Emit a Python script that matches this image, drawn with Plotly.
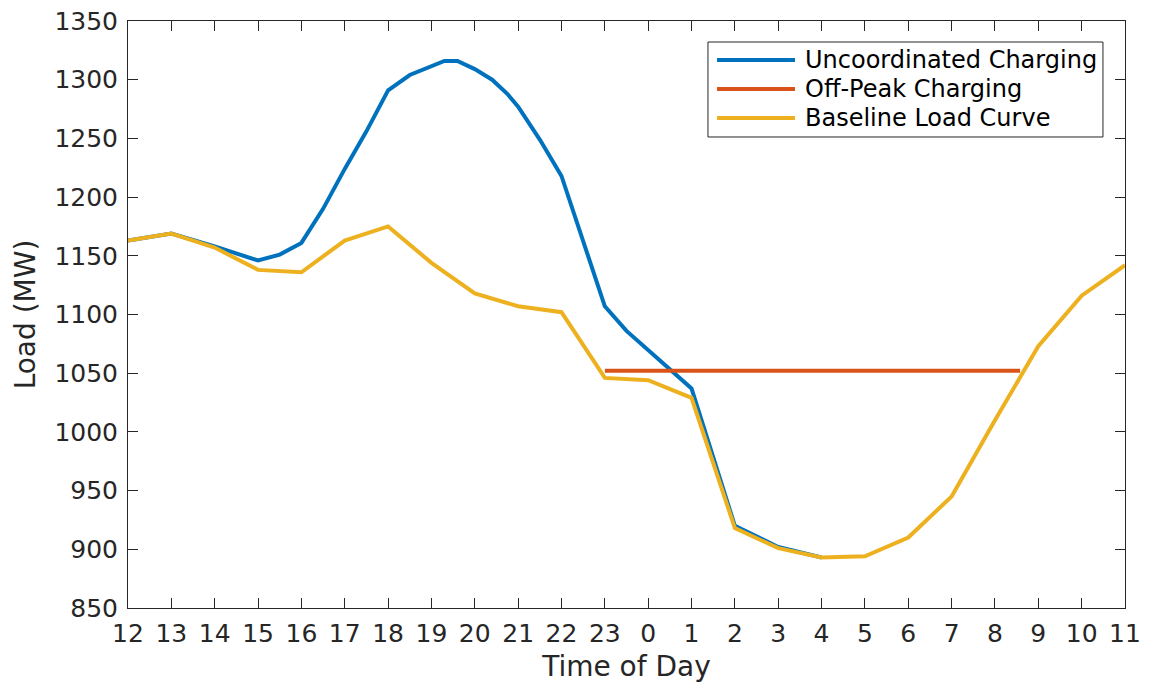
import plotly.graph_objects as go

# Hour labels, starting at noon and running to 11 the next morning
hour_labels = ["12", "13", "14", "15", "16", "17", "18", "19", "20", "21", "22", "23",
               "0", "1", "2", "3", "4", "5", "6", "7", "8", "9", "10", "11"]
hour_pos = list(range(len(hour_labels)))  # hours elapsed since noon

# Baseline load (MW), hourly
baseline_mw = [1163, 1169, 1157, 1138, 1136, 1163, 1175, 1144, 1118, 1107, 1102, 1046,
               1044, 1029, 918, 901, 893, 894, 910, 945, 1010, 1073, 1116, 1142]

# Uncoordinated charging (MW), finer sampling through the evening peak;
# after 4 am it coincides with the baseline
uncoord_t = [0, 1, 2, 2.5, 3, 3.5, 4, 4.5, 5, 5.5, 6, 6.5, 7, 7.3, 7.6, 8, 8.4, 8.75,
             9, 9.5, 10, 11, 11.5, 12, 12.5, 13, 14, 15, 16]
uncoord_mw = [1163, 1169, 1158, 1152, 1146, 1151, 1161, 1190, 1224, 1256, 1291, 1304,
              1311, 1316, 1316, 1309, 1300, 1288, 1277, 1249, 1218, 1107, 1086, 1070,
              1053, 1037, 920, 902, 893]

# Off-peak charging holds a flat level overnight
offpeak_t = [11, 20.58]
offpeak_mw = [1052, 1052]

series_names = ["Uncoordinated Charging", "Off-Peak Charging", "Baseline Load Curve"]
series_colors = ["#0072BD", "#D95319", "#EDB120"]
axis_col = "#262626"
font_family = "DejaVu Sans"

fig = go.Figure()
for name, color, xs, ys in zip(series_names, series_colors,
                               [uncoord_t, offpeak_t, hour_pos],
                               [uncoord_mw, offpeak_mw, baseline_mw]):
    fig.add_trace(go.Scatter(x=xs, y=ys, mode="lines", name=name,
                             line=dict(color=color, width=4), showlegend=False))

# Boxed legend with long line keys
box_x0, box_x1, box_y0, box_y1 = 0.5817, 0.9779, 0.8024, 0.9642
key_x0, key_x1, text_x = 0.5908, 0.6690, 0.6770
row_y = [0.9336, 0.8842, 0.8348]
fig.add_shape(type="rect", xref="paper", yref="paper",
              x0=box_x0, x1=box_x1, y0=box_y0, y1=box_y1,
              line=dict(color=axis_col, width=1), fillcolor="white", layer="above")
for name, color, yy in zip(series_names, series_colors, row_y):
    fig.add_shape(type="line", xref="paper", yref="paper",
                  x0=key_x0, x1=key_x1, y0=yy, y1=yy,
                  line=dict(color=color, width=4), layer="above")
    fig.add_annotation(xref="paper", yref="paper", x=text_x, y=yy,
                       xanchor="left", yanchor="middle", showarrow=False,
                       text=name, font=dict(family=font_family, size=24, color="black"))

axis_common = dict(
    showline=True, linecolor=axis_col, linewidth=1, mirror="ticks",
    ticks="inside", ticklen=10, tickwidth=1, tickcolor=axis_col,
    showgrid=False, zeroline=False, automargin=False,
    tickfont=dict(family=font_family, size=25, color=axis_col),
)

fig.update_layout(
    width=1150, height=688,
    margin=dict(l=128, r=25, t=21, b=80),
    plot_bgcolor="white", paper_bgcolor="white",
    font=dict(family=font_family, color=axis_col),
    xaxis=dict(range=[0, 23], tickvals=hour_pos, ticktext=hour_labels,
               ticklabelstandoff=3,
               title=dict(text="Time of Day", standoff=9,
                          font=dict(family=font_family, size=28, color=axis_col)),
               **axis_common),
    yaxis=dict(range=[850, 1350], dtick=50, ticklabelstandoff=4,
               title=dict(text="Load (MW)", standoff=10,
                          font=dict(family=font_family, size=28, color=axis_col)),
               **axis_common),
    showlegend=False,
)

fig.write_html("out.html")
